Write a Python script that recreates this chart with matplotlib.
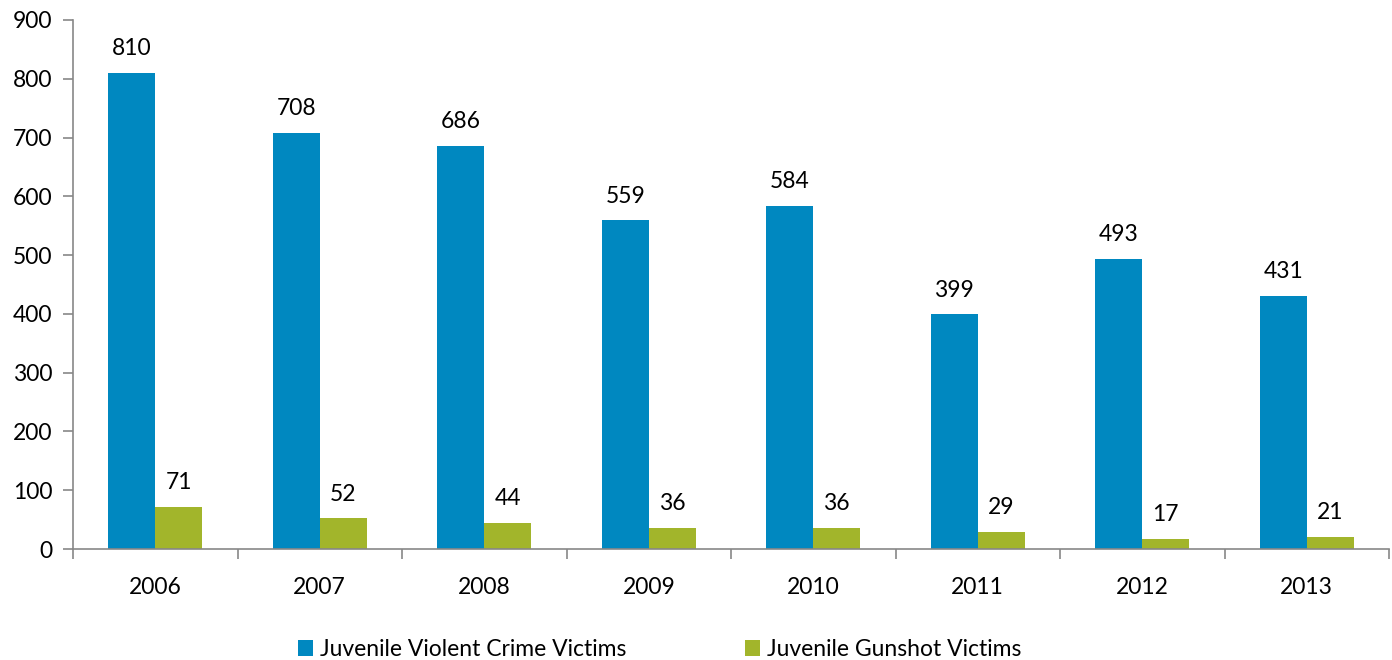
import numpy as np
import matplotlib.pyplot as plt
from matplotlib.ticker import FixedLocator, NullFormatter

years = ['2006', '2007', '2008', '2009', '2010', '2011', '2012', '2013']
violent = [810, 708, 686, 559, 584, 399, 493, 431]
gunshot = [71, 52, 44, 36, 36, 29, 17, 21]

blue = '#0088C0'
green = '#A2B52B'
spine_col = '#878787'
fs = 16.5

plt.rcParams['font.family'] = ['Lato', 'DejaVu Sans']

fig = plt.figure(figsize=(13.92, 6.6), dpi=100)
ax = fig.add_axes([73/1392, 111/660, (1389-73)/1392, (549-20)/660])

x = np.arange(len(years))
w = 0.285
b1 = ax.bar(x - w/2, violent, w, color=blue, label='Juvenile Violent Crime Victims')
b2 = ax.bar(x + w/2, gunshot, w, color=green, label='Juvenile Gunshot Victims')

for bars in (b1, b2):
    for r in bars:
        ax.annotate(f'{int(r.get_height())}', (r.get_x() + r.get_width()/2, r.get_height()),
                    xytext=(0, 10), textcoords='offset points', ha='center', va='bottom',
                    fontsize=fs)

ax.set_xlim(-0.5, len(years) - 0.5)
ax.set_ylim(0, 900)
ax.set_yticks(range(0, 901, 100))
ax.set_xticks(x)
ax.set_xticklabels(years)
ax.xaxis.set_minor_locator(FixedLocator(np.arange(-0.5, len(years), 1)))
ax.xaxis.set_minor_formatter(NullFormatter())
ax.tick_params(axis='x', which='major', length=0, pad=20, labelsize=fs)
ax.tick_params(axis='x', which='minor', length=7, width=1.2, color=spine_col, direction='out')
ax.tick_params(axis='y', length=7, width=1.2, color=spine_col, labelsize=fs, pad=8)

for s in ('top', 'right'):
    ax.spines[s].set_visible(False)
for s in ('left', 'bottom'):
    ax.spines[s].set_color(spine_col)
    ax.spines[s].set_linewidth(1.2)

fig.legend(handles=[b1, b2], loc='center', bbox_to_anchor=(0.474, 0.016), ncol=2,
           frameon=False, fontsize=fs, handlelength=0.65, handleheight=0.65,
           handletextpad=0.3, columnspacing=5.2)

fig.savefig('out.png', dpi=100)
